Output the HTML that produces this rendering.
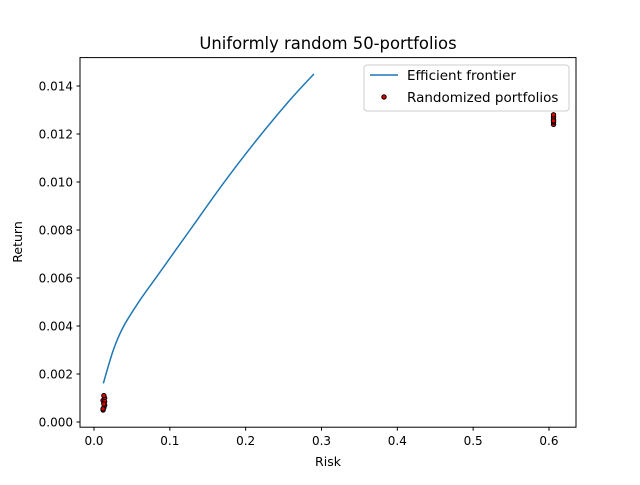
<!DOCTYPE html>
<html><head><meta charset="utf-8"><style>
body{margin:0;background:#fff}
text{font-family:"DejaVu Sans","Liberation Sans",sans-serif;fill:#000}
</style></head><body>
<svg id="c" width="640" height="480" xmlns="http://www.w3.org/2000/svg">
<rect width="640" height="480" fill="#fff"/>
<text x="328" y="49" font-size="16.4" text-anchor="middle">Uniformly random 50-portfolios</text>
<g id="plot"></g>
<rect x="80" y="57.6" width="496" height="369.6" fill="none" stroke="#000" stroke-width="1"/>
<g id="ticks"></g>
<text x="328" y="466" font-size="12.5" text-anchor="middle">Risk</text>
<text transform="translate(22,242) rotate(-90)" font-size="12.5" text-anchor="middle">Return</text>
<g>
<rect x="364" y="65" width="205" height="46" rx="3" fill="#fff" fill-opacity="0.8" stroke="#ccc"/>
<line x1="370" y1="75" x2="398" y2="75" stroke="#1f77b4" stroke-width="1.5"/>
<text x="407" y="80" font-size="13.5">Efficient frontier</text>
<circle cx="384" cy="97" r="2.2" fill="#d00" stroke="#000" stroke-width="1"/>
<text x="407" y="102" font-size="13.5">Randomized portfolios</text>
</g>
</svg>
<script>
const frontierRisk=[0.0123,0.0255,0.0387,0.0607,0.0826,0.1266,0.1705,0.2145,0.2585,0.290];
const frontierReturn=[0.00161,0.0030,0.00397,0.00508,0.00605,0.0080,0.00994,0.01175,0.01342,0.0145];
const portRisk=[0.012,0.013,0.014,0.013,0.012,0.014,0.013,0.012,0.014,0.013,0.606,0.606,0.606,0.606,0.606,0.606];
const portReturn=[0.0005,0.0006,0.0007,0.0008,0.0009,0.0010,0.0011,0.00055,0.00085,0.00075,0.0124,0.0125,0.0126,0.0127,0.0128,0.01255];
const xTicks=[0,0.1,0.2,0.3,0.4,0.5,0.6];
const yTicks=[0,0.002,0.004,0.006,0.008,0.010,0.012,0.014];
const xScale=v=>94+v*758.3;
const yScale=v=>422-v*24000;
const NS="http://www.w3.org/2000/svg";
const plot=document.getElementById('plot'),tk=document.getElementById('ticks');
function mk(t,a,p){const e=document.createElementNS(NS,t);for(const k in a)e.setAttribute(k,a[k]);p.appendChild(e);return e;}
const P=frontierRisk.map((x,i)=>[xScale(x),yScale(frontierReturn[i])]);
let d='M'+P[0][0]+','+P[0][1];
for(let i=0;i<P.length-1;i++){const p0=P[i-1]||P[i],p1=P[i],p2=P[i+1],p3=P[i+2]||P[i+1];
d+=' C'+(p1[0]+(p2[0]-p0[0])/6)+','+(p1[1]+(p2[1]-p0[1])/6)+' '+(p2[0]-(p3[0]-p1[0])/6)+','+(p2[1]-(p3[1]-p1[1])/6)+' '+p2[0]+','+p2[1];}
const line=mk('path',{d:d,fill:'none',stroke:'#1f77b4','stroke-width':1.5},plot);


portRisk.forEach((x,i)=>{const c=mk('circle',{cx:xScale(x),cy:yScale(portReturn[i]),r:2.2,fill:'#d00',stroke:'#000','stroke-width':1},plot);

});
xTicks.forEach(v=>{const x=xScale(v);mk('line',{x1:x,x2:x,y1:427.2,y2:430.7,stroke:'#000'},tk);
const t=mk('text',{x:x,y:445,'font-size':12,'text-anchor':'middle'},tk);t.textContent=v.toFixed(1);

});
yTicks.forEach(v=>{const y=yScale(v);mk('line',{x1:76.5,x2:80,y1:y,y2:y,stroke:'#000'},tk);
const t=mk('text',{x:73,y:y+4.5,'font-size':12,'text-anchor':'end'},tk);t.textContent=v.toFixed(3);

});
</script>
</body></html>
